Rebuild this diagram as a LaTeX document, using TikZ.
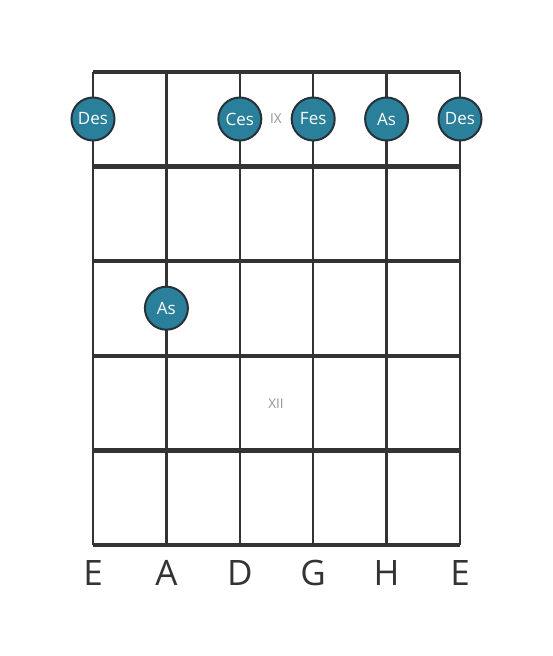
\documentclass[tikz,border=0pt]{standalone}
\usepackage{fontspec}
\setmainfont{Open Sans}
\usetikzlibrary{positioning}

\begin{document}
\begin{tikzpicture}[x=1pt,y=-1pt]
\definecolor{notefill}{HTML}{2A7F9B}
\definecolor{noteline}{HTML}{263238}
\definecolor{gridline}{HTML}{333333}
\tikzset{every node/.style={inner sep=0pt},
  note/.style={circle, draw=noteline, line width=2pt, fill=notefill, minimum size=43pt, text=white, font=\fontsize{17}{17}\selectfont},
  fretnum/.style={text=gray!85, font=\fontsize{13.5}{13.5}\selectfont},
  tuning/.style={text=gridline, font=\fontsize{35}{35}\selectfont, anchor=base}}
\useasboundingbox (0,0) rectangle (553,656);
% strings
\foreach \i in {0,...,5}{
\coordinate (s\i) at (93+73.4*\i,72);
\draw[gridline, line width=2.5pt] (s\i) -- ++(0,473);
}
% frets
\foreach \j in {0,...,5}{
\coordinate (f\j) at (93,72+94.6*\j);
\draw[gridline, line width=4.5pt] (f\j) -- ++(367,0);
}
\node[fretnum] (IX) at (276,119) {IX};
\node[fretnum] (XII) at (276,404) {XII};
\foreach \i/\n/\f in {0/Des/0, 2/Ces/0, 3/Fes/0, 4/As/0, 5/Des/0, 1/As/2}{
\node[note] (n\i\f) at (93+73.4*\i,119+94.6*\f) {\n};
}
\foreach \i/\t in {0/E, 1/A, 2/D, 3/G, 4/H, 5/E}{
\node[tuning] (t\i) at (93+73.4*\i,585) {\t};
}
\end{tikzpicture}
\end{document}
